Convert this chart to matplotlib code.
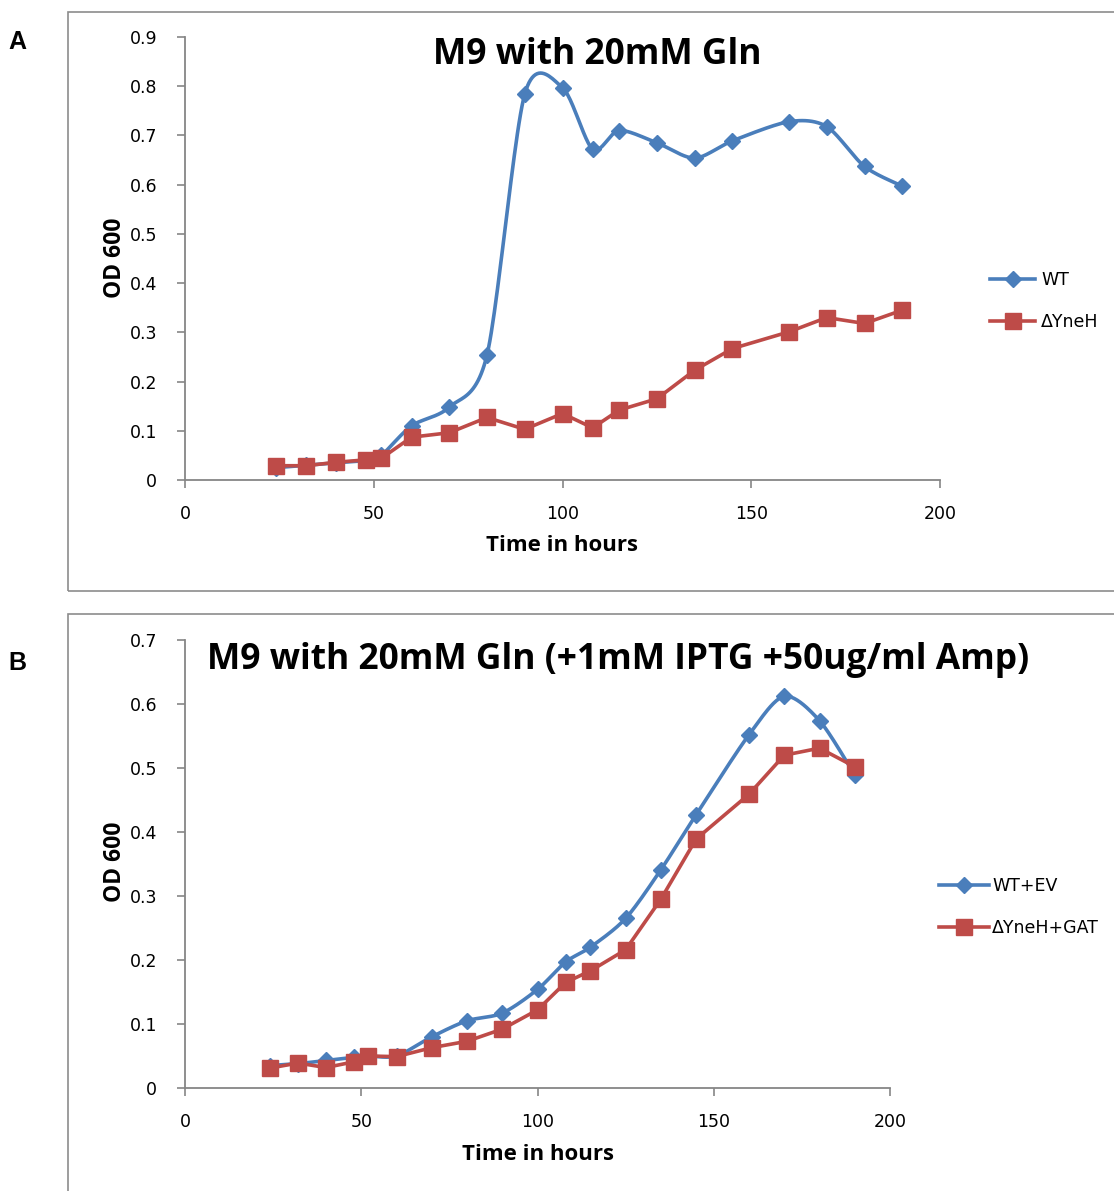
import numpy as np
import matplotlib
matplotlib.use("Agg")
import matplotlib.pyplot as plt
from matplotlib.patches import Rectangle

# ---------------- data ----------------
time_h = [24, 32, 40, 48, 52, 60, 70, 80, 90, 100, 108, 115, 125, 135, 145, 160, 170, 180, 190]

a_wt = [0.025, 0.030, 0.035, 0.040, 0.050, 0.110, 0.148, 0.254, 0.784, 0.797, 0.672, 0.710,
        0.685, 0.654, 0.689, 0.728, 0.718, 0.637, 0.597]
a_dyneh = [0.029, 0.029, 0.036, 0.041, 0.044, 0.087, 0.096, 0.127, 0.103, 0.135, 0.106, 0.142,
           0.165, 0.223, 0.267, 0.301, 0.330, 0.318, 0.345]

b_wt_ev = [0.035, 0.038, 0.043, 0.048, 0.050, 0.050, 0.080, 0.105, 0.117, 0.154, 0.197, 0.220,
           0.265, 0.341, 0.427, 0.552, 0.612, 0.574, 0.489]
b_dyneh_gat = [0.031, 0.039, 0.032, 0.041, 0.050, 0.049, 0.063, 0.073, 0.092, 0.122, 0.165, 0.183,
               0.216, 0.295, 0.389, 0.459, 0.520, 0.531, 0.502]

title_a = "M9 with 20mM Gln"
title_b = "M9 with 20mM Gln (+1mM IPTG +50ug/ml Amp)"
labels_a = ["WT", "\u0394YneH"]
labels_b = ["WT+EV", "\u0394YneH+GAT"]
xlabel = "Time in hours"
ylabel = "OD 600"

BLUE = "#4A7EBB"
RED = "#BE4B48"
GREY = "#868686"

W, H = 1114, 1191


def smooth(x, y, n=24, k=7.0):
    """Excel-style Bezier smoothing through the points."""
    p = np.column_stack([x, y]).astype(float)
    pts = np.vstack([p[0], p, p[-1]])
    out = []
    t = np.linspace(0, 1, n, endpoint=False)
    for i in range(1, len(pts) - 2):
        p0, p1, p2, p3 = pts[i - 1], pts[i], pts[i + 1], pts[i + 2]
        c1 = p1 + (p2 - p0) / k
        c2 = p2 - (p3 - p1) / k
        tt = t[:, None]
        seg = ((1 - tt) ** 3) * p1 + 3 * ((1 - tt) ** 2) * tt * c1 + 3 * (1 - tt) * tt ** 2 * c2 + tt ** 3 * p2
        out.append(seg)
    out.append(p[-1][None, :])
    out = np.vstack(out)
    return out[:, 0], out[:, 1]


def fx(px):
    return px / W


def fy(py):
    return 1 - py / H


fig = plt.figure(figsize=(W / 100, H / 100), dpi=100)

# panel frames
fig.add_artist(Rectangle((fx(68), fy(591)), fx(1200 - 68), (591 - 12) / H, transform=fig.transFigure,
                         fill=False, edgecolor="#8c8c8c", lw=1.2))
fig.add_artist(Rectangle((fx(68), fy(1300)), fx(1200 - 68), (1300 - 614) / H, transform=fig.transFigure,
                         fill=False, edgecolor="#8c8c8c", lw=1.2))

fig.text(fx(8), fy(42), "A", fontsize=18, fontweight="bold", family="Liberation Sans", va="center", ha="left")
fig.text(fx(8), fy(663), "B", fontsize=18, fontweight="bold", family="Liberation Sans", va="center", ha="left")

TICKFONT = dict(family="DejaVu Sans", size=12.5)
TITLEFAM = "Open Sans"


def style_axes(ax, ymax, ystep):
    for s in ["top", "right"]:
        ax.spines[s].set_visible(False)
    for s in ["left", "bottom"]:
        ax.spines[s].set_color(GREY)
        ax.spines[s].set_linewidth(1.3)
    ax.set_xlim(0, 200)
    ax.set_ylim(0, ymax)
    ax.set_xticks([0, 50, 100, 150, 200])
    ax.set_yticks(np.round(np.arange(0, ymax + 1e-9, ystep), 1))
    ax.set_yticklabels([("%g" % v) for v in np.round(np.arange(0, ymax + 1e-9, ystep), 1)])
    ax.tick_params(axis="both", direction="out", length=6, width=1.2, color=GREY,
                   labelsize=TICKFONT["size"], labelcolor="#000000")
    ax.tick_params(axis="y", pad=14)
    ax.tick_params(axis="x", pad=12)
    for lab in ax.get_xticklabels() + ax.get_yticklabels():
        lab.set_family(TICKFONT["family"])
    ax.patch.set_alpha(0)


# ---------------- Panel A ----------------
axA = fig.add_axes([fx(185), fy(480), (940 - 185) / W, (480 - 37) / H])
style_axes(axA, 0.9, 0.1)
sx, sy = smooth(time_h, a_wt)
axA.plot(sx, sy, color=BLUE, lw=2.6, zorder=3, solid_capstyle="round")
axA.plot(time_h, a_wt, ls="none", marker="D", ms=8, color=BLUE, zorder=4, clip_on=False)
axA.plot(time_h, a_dyneh, color=RED, lw=2.6, marker="s", ms=11, zorder=5, clip_on=False)
hA1, = axA.plot([], [], color=BLUE, lw=2.6, marker="D", ms=8)
hA2, = axA.plot([], [], color=RED, lw=2.6, marker="s", ms=11)

fig.text(fx(597), fy(55), title_a, fontsize=25.5, fontweight="bold", family=TITLEFAM, ha="center", va="center")
fig.text(fx(562), fy(546), xlabel, fontsize=16, fontweight="bold", family=TITLEFAM, ha="center", va="center")
fig.text(fx(115), fy(258), ylabel, fontsize=16.5, fontweight="bold", family=TITLEFAM, ha="center", va="center",
         rotation=90)

legA = fig.legend([hA1, hA2], labels_a, loc="center left", bbox_to_anchor=(fx(990), fy(301)),
                  frameon=False, prop=dict(family="DejaVu Sans", size=12.5), handlelength=2.6,
                  handletextpad=0.35, labelspacing=1.35, borderpad=0, borderaxespad=0)

# ---------------- Panel B ----------------
axB = fig.add_axes([fx(185), fy(1088), (890 - 185) / W, (1088 - 640) / H])
style_axes(axB, 0.7, 0.1)
sx, sy = smooth(time_h, b_wt_ev)
axB.plot(sx, sy, color=BLUE, lw=2.6, zorder=3)
axB.plot(time_h, b_wt_ev, ls="none", marker="D", ms=8, color=BLUE, zorder=4, clip_on=False)
axB.plot(time_h, b_dyneh_gat, color=RED, lw=2.6, marker="s", ms=11, zorder=5, clip_on=False)
hB1, = axB.plot([], [], color=BLUE, lw=2.6, marker="D", ms=8)
hB2, = axB.plot([], [], color=RED, lw=2.6, marker="s", ms=11)

fig.text(fx(618), fy(660), title_b, fontsize=25.5, fontweight="bold", family=TITLEFAM, ha="center", va="center")
fig.text(fx(538), fy(1155), xlabel, fontsize=16, fontweight="bold", family=TITLEFAM, ha="center", va="center")
fig.text(fx(115), fy(862), ylabel, fontsize=16.5, fontweight="bold", family=TITLEFAM, ha="center", va="center",
         rotation=90)

legB = fig.legend([hB1, hB2], labels_b, loc="center left", bbox_to_anchor=(fx(939), fy(907)),
                  frameon=False, prop=dict(family="DejaVu Sans", size=12.5), handlelength=2.9,
                  handletextpad=0.15, labelspacing=1.35, borderpad=0, borderaxespad=0)

fig.savefig("out.png", dpi=100)
